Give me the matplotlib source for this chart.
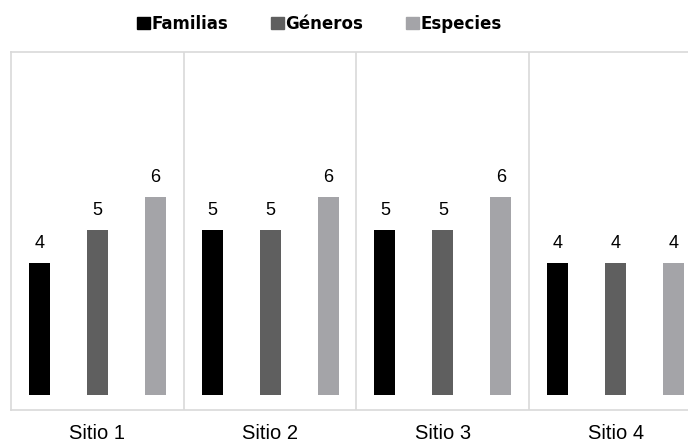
import numpy as np
import matplotlib.pyplot as plt
from matplotlib.patches import Patch

plt.rcParams['font.family'] = ['Liberation Sans', 'DejaVu Sans']

sitios = ['Sitio 1', 'Sitio 2', 'Sitio 3', 'Sitio 4']
series = ['Familias', 'Géneros', 'Especies']
familias = [4, 5, 5, 4]
generos = [5, 5, 5, 4]
especies = [6, 6, 6, 4]
colores = ['#000000', '#5f5f5f', '#a4a4a8']

fig = plt.figure(figsize=(6.88, 4.45), dpi=100)
ax = fig.add_axes([11 / 688, 1 - 410 / 445, 691 / 688, 358 / 445])

x = np.arange(len(sitios)) + 0.5
offset = 58 / 173
width = 21 / 173
for k, (vals, col) in enumerate(zip([familias, generos, especies], colores)):
    pos = x + (k - 1) * offset
    bars = ax.bar(pos, vals, width=width, color=col, zorder=3)
    for xp, v in zip(pos, vals):
        ax.annotate(str(v), (xp, v), xytext=(0, 10.5), textcoords='offset points',
                    ha='center', va='baseline', fontsize=13)

ax.set_xlim(0, len(sitios))
ax.set_ylim(-15 / 33, 343 / 33)

# panel separators
for i in range(1, len(sitios)):
    ax.axvline(i, color='#d9d9d9', lw=1.2, zorder=1)
for s in ax.spines.values():
    s.set_color('#d9d9d9')
    s.set_linewidth(1.2)

ax.set_xticks(x)
ax.set_xticklabels(sitios, fontsize=14.5)
ax.tick_params(axis='x', length=0, pad=10)
ax.set_yticks([])

handles = [Patch(color=c, label=s) for c, s in zip(colores, series)]
fig.legend(handles=handles, loc='center', bbox_to_anchor=(0.4644, 0.947), ncol=3,
           frameon=False, handlelength=0.78, handleheight=0.78, handletextpad=0.05,
           columnspacing=2.6, prop={'family': 'DejaVu Sans', 'weight': 'bold', 'size': 12})

fig.savefig('out.png', dpi=100)
